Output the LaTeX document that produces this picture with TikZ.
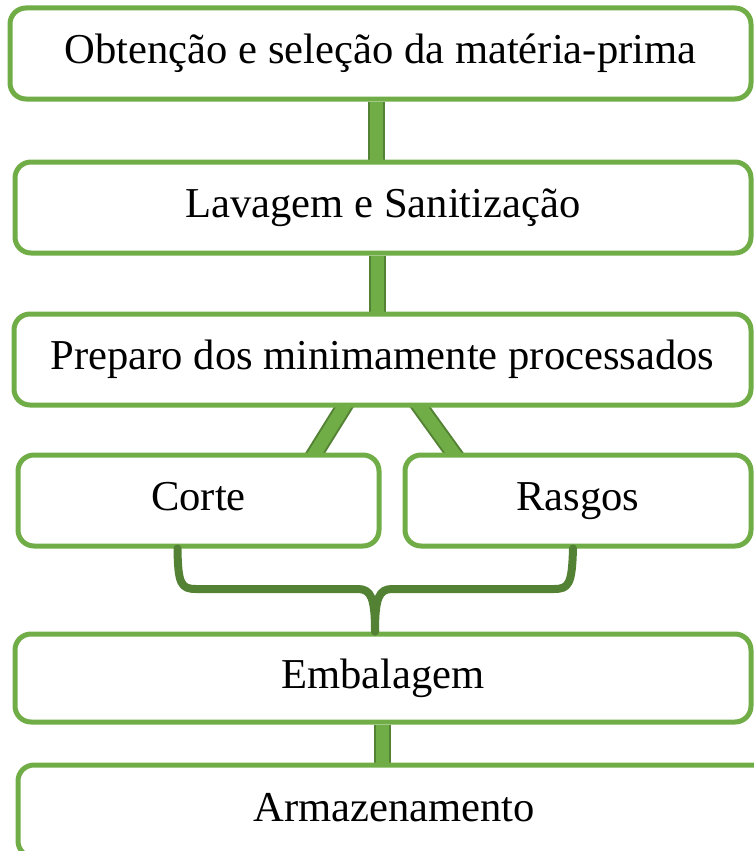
\documentclass[tikz,border=0pt]{standalone}
\usepackage{fontspec}
\setmainfont{Liberation Serif}
\usetikzlibrary{backgrounds}

\definecolor{boxgreen}{HTML}{70AD47}
\definecolor{darkgreen}{HTML}{548235}

\begin{document}
\begin{tikzpicture}[x=1pt, y=-1pt,
    stage/.style={rectangle, rounded corners=16pt, draw=boxgreen, line width=5pt, fill=white,
        inner sep=0pt, minimum height=91pt, text height=29pt, text depth=9pt,
        font=\fontsize{42.6}{50}\selectfont},
    bar/.style={draw=darkgreen, line width=2pt, double=boxgreen, double distance=13pt},
    brace/.style={draw=darkgreen, line width=8pt, line cap=round, line join=round}]
    \useasboundingbox (0,0) rectangle (754,851);

    \node[stage, minimum width=741pt] (obt) at (380.5, 53.5) {Obtenção e seleção da matéria-prima};
    \node[stage, minimum width=736pt] (lav) at (383, 207.5) {Lavagem e Sanitização};
    \node[stage, minimum width=737pt] (prep) at (382.5, 359.5) {Preparo dos minimamente processados};
    \node[stage, minimum width=361pt] (corte) at (198.5, 500.5) {Corte};
    \node[stage, minimum width=346pt] (rasgos) at (578, 500.5) {Rasgos};
    \node[stage, minimum width=736pt, minimum height=88pt] (emb) at (383, 678) {Embalagem};
    \node[stage, minimum width=752pt, minimum height=92pt] (arm) at (394, 811) {Armazenamento};

    \begin{scope}[on background layer]
        \draw[bar] ([xshift=-4pt]obt.south) -- ([xshift=-4pt]obt.south |- lav.north);
        \draw[bar] ([xshift=-6pt]lav.south) -- ([xshift=-6pt]lav.south |- prep.north);
        \draw[bar, shorten <=-10pt, shorten >=-10pt] ([xshift=-39pt]prep.south) -- ([xshift=117pt]corte.north);
        \draw[bar, shorten <=-10pt, shorten >=-10pt] ([xshift=38pt]prep.south) -- ([xshift=-125pt]rasgos.north);
        \draw[bar] ([xshift=-1pt]emb.south) -- ([xshift=-1pt]emb.south |- arm.north);
    \end{scope}

    \draw[brace] ([xshift=-21pt]corte.south) .. controls (178,584) and (181,589) .. (196,589)
        -- (358,589) .. controls (371,589) and (375,598) .. ([xshift=-8pt]emb.north);
    \draw[brace] ([xshift=-5pt]rasgos.south) .. controls (572,584) and (569,589) .. (554,589)
        -- (392,589) .. controls (379,589) and (375,598) .. ([xshift=-8pt]emb.north);
\end{tikzpicture}
\end{document}
